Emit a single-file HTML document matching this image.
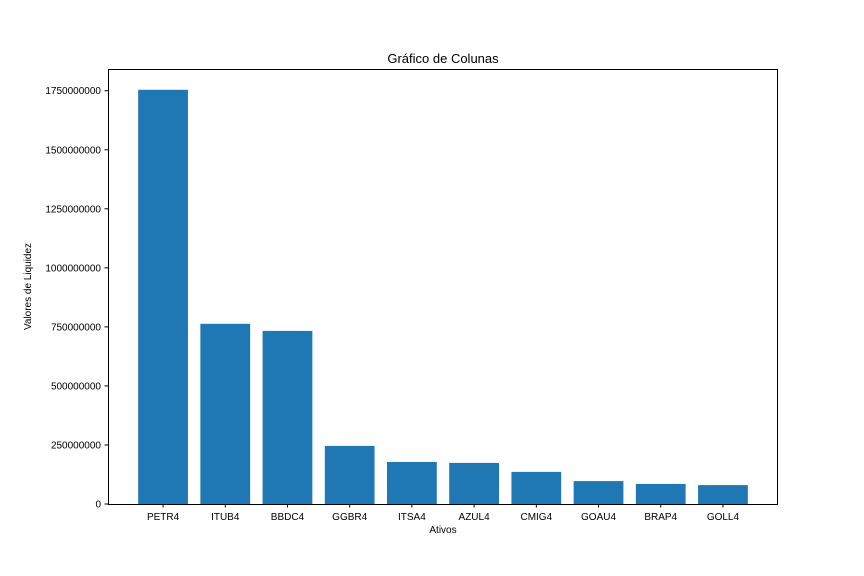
<!DOCTYPE html>
<html><head><meta charset="utf-8"><style>
body{margin:0;background:#fff;}
svg{display:block;font-family:"Liberation Sans","DejaVu Sans",sans-serif;}
</style></head><body>
<svg id="chart" width="864" height="576">
<rect x="0" y="0" width="864" height="576" fill="#fff"/>
<text x="443" y="63" text-anchor="middle" font-size="13">Gráfico de Colunas</text>
<text x="443" y="533" text-anchor="middle" font-size="10">Ativos</text>
<text transform="translate(31,286.5) rotate(-90)" text-anchor="middle" font-size="10">Valores de Liquidez</text>
<g id="bars"></g><g id="ticks"></g>
<rect x="108.5" y="69.5" width="669" height="435" fill="none" stroke="#000" stroke-width="1"/>
</svg>
<script>
const categories=["PETR4","ITUB4","BBDC4","GGBR4","ITSA4","AZUL4","CMIG4","GOAU4","BRAP4","GOLL4"];
const values=[1754000000,763000000,733000000,246000000,178000000,174000000,136000000,97000000,85000000,80000000];
const yTicks=[0,250000000,500000000,750000000,1000000000,1250000000,1500000000,1750000000];
const yTickLabels=["0","250000000","500000000","750000000","1000000000","1250000000","1500000000","1750000000"];
const L=108,R=778,T=69,B=504,xmin=-0.885,xmax=9.885,ymax=1842000000;
const ns="http://www.w3.org/2000/svg";
const xS=v=>L+(v-xmin)/(xmax-xmin)*(R-L);
const yS=v=>B-v/ymax*(B-T);
const bars=document.getElementById('bars'),ticks=document.getElementById('ticks');
function mk(t,a,p){const e=document.createElementNS(ns,t);for(const k in a)e.setAttribute(k,a[k]);p.appendChild(e);return e;}
categories.forEach((c,i)=>{
 const x0=xS(i-0.4),x1=xS(i+0.4),y=yS(values[i]);
 const r=mk('rect',{x:x0,y:y,width:x1-x0,height:B-y,fill:'#1f77b4'},bars);
 
 
 const cx=xS(i);
 mk('line',{x1:cx,x2:cx,y1:B,y2:B+3.5,stroke:'#000'},ticks);
 const t=mk('text',{x:cx,y:B+16,'text-anchor':'middle','font-size':10},ticks);
 t.textContent=c;
 
 
});
yTicks.forEach((v,i)=>{
 const y=yS(v);
 mk('line',{x1:L-3.5,x2:L,y1:y,y2:y,stroke:'#000'},ticks);
 const t=mk('text',{x:L-7,y:y+3.5,'text-anchor':'end','font-size':10},ticks);
 t.textContent=yTickLabels[i];
 
 
});
</script>
</body></html>
